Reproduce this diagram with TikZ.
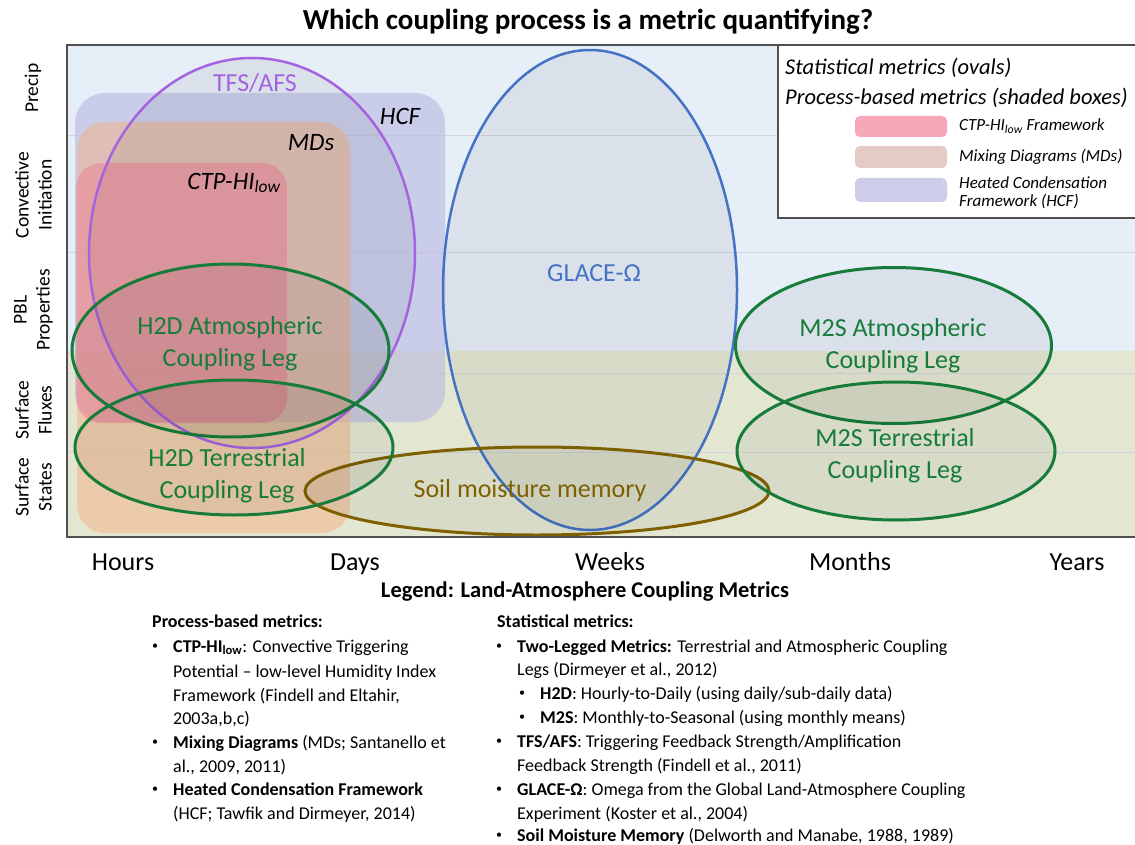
\documentclass[tikz,border=0pt]{standalone}
\usepackage{fontspec}
\setmainfont{Carlito}

\definecolor{skyfill}{HTML}{E6EEF8}
\definecolor{landfill}{HTML}{E3E7D2}
\definecolor{levelgray}{HTML}{D2D6DA}
\definecolor{framegray}{HTML}{505050}
\definecolor{hcfcol}{HTML}{B8B8E0}
\definecolor{mdcol}{HTML}{F4B183}
\definecolor{ctpcol}{HTML}{F06E8C}
\definecolor{tfspurple}{HTML}{A464DE}
\definecolor{legsgreen}{HTML}{177C3A}
\definecolor{glaceblue}{HTML}{4472C4}
\definecolor{soilbrown}{HTML}{7F6000}

\begin{document}
\begin{tikzpicture}[x=1pt,y=-1pt,line cap=round,
        oval/.style={fill=black,fill opacity=0.05,line width=3pt},
        ovaltext/.style={font=\fontsize{26}{32}\selectfont,align=center,inner sep=0pt},
        boxtext/.style={font=\fontsize{25}{30}\selectfont\itshape,inner sep=0pt},
        rowtext/.style={rotate=90,align=center,inner sep=0pt,font=\fontsize{19.5}{23}\selectfont},
        axistext/.style={anchor=base,inner sep=0pt,font=\fontsize{26}{30}\selectfont},
        keytext/.style={anchor=west,inner sep=0pt,font=\fontsize{22.5}{29}\selectfont\itshape},
        swatchtext/.style={anchor=west,inner sep=0pt,align=left,font=\fontsize{17}{18}\selectfont\itshape},
        swatch/.style={rounded corners=5pt},
        listline/.style={anchor=west,inner sep=0pt,text height=13pt,text depth=3pt,font=\fontsize{18}{20}\selectfont},
        listdot/.style={inner sep=0pt,font=\fontsize{12}{14}\selectfont}]
        \useasboundingbox (0,0) rectangle (1135,845);

        % draw the title
        \node[inner sep=0pt,font=\fontsize{29}{32}\selectfont\bfseries] (title) at (588,22) {Which coupling process is a metric quantifying?};

        % draw the panel background
        \fill[skyfill] (67,45) rectangle (1140,537);
        \fill[landfill] (67,351) rectangle (1140,537);
        \foreach \y in {136,252,373,452}
                \draw[levelgray,line width=1pt] (67,\y) -- (1140,\y);

        % draw the process-based boxes
        \fill[hcfcol,fill opacity=0.6,rounded corners=30pt] (75,93) rectangle (445,422);
        \fill[mdcol,fill opacity=0.5,rounded corners=28pt] (77,122) rectangle (350,533);
        \fill[ctpcol,fill opacity=0.4,rounded corners=25pt] (76,163) rectangle (287,423);

        % draw the statistical ovals
        \coordinate (tfs) at (252,253);
        \coordinate (glace) at (590,290);
        \coordinate (soil) at (537,491);
        \coordinate (hatm) at (230.5,350.5);
        \coordinate (hter) at (234,447.5);
        \coordinate (matm) at (893.5,345.5);
        \coordinate (mter) at (896,451);
        \draw[oval,draw=tfspurple,line width=2.5pt] (tfs) ellipse [x radius=163, y radius=195];
        \draw[oval,draw=glaceblue,line width=2.5pt] (glace) ellipse [x radius=147, y radius=240];
        \draw[oval,draw=soilbrown] (soil) ellipse [x radius=232, y radius=44];
        \draw[oval,draw=legsgreen] (hatm) ellipse [x radius=158.5, y radius=86.5];
        \draw[oval,draw=legsgreen] (hter) ellipse [x radius=159, y radius=67.5];
        \draw[oval,draw=legsgreen] (matm) ellipse [x radius=158, y radius=78];
        \draw[oval,draw=legsgreen] (mter) ellipse [x radius=159, y radius=69];

        % label the boxes and ovals
        \node[boxtext] (hcflabel) at (400,116) {HCF};
        \node[boxtext] (mdlabel) at (311,143) {MDs};
        \node[boxtext] (ctplabel) at (234,183) {CTP-HI\textsubscript{low}};
        \node[ovaltext,text=tfspurple] (tfslabel) at (255,83) {TFS/AFS};
        \node[ovaltext,text=glaceblue] (glacelabel) at (594,273) {GLACE-Ω};
        \node[ovaltext,text=soilbrown] (soillabel) at (530,491) {Soil moisture memory};
        \node[ovaltext,text=legsgreen] (hatmlabel) at (230,344) {H2D Atmospheric\\Coupling Leg};
        \node[ovaltext,text=legsgreen] (hterlabel) at (227,476) {H2D Terrestrial\\Coupling Leg};
        \node[ovaltext,text=legsgreen] (matmlabel) at (893,346) {M2S Atmospheric\\Coupling Leg};
        \node[ovaltext,text=legsgreen] (mterlabel) at (895,456) {M2S Terrestrial\\Coupling Leg};

        % draw the key in the corner
        \draw[fill=white,draw=framegray,line width=1.2pt] (778,45) rectangle (1140,218);
        \node[keytext] (keyovals) at (785,68) {Statistical metrics (ovals)};
        \node[keytext] (keyboxes) at (785,98) {Process-based metrics (shaded boxes)};
        \fill[swatch,fill=ctpcol!60!white] (855,116) rectangle (947,137);
        \fill[swatch,fill=mdcol!55!hcfcol!70!white] (855,146) rectangle (947,168);
        \fill[swatch,fill=hcfcol!70!white] (855,178) rectangle (947,202);
        \node[swatchtext] (keyctp) at (959,126) {CTP-HI\textsubscript{low} Framework};
        \node[swatchtext] (keymd) at (959,157) {Mixing Diagrams (MDs)};
        \node[swatchtext] (keyhcf) at (959,193) {Heated Condensation\\Framework (HCF)};

        % draw the panel frame
        \draw[framegray,line width=1.5pt] (1140,45) -- (67,45) -- (67,537) -- (1140,537);

        % draw the process levels
        \node[rowtext] (precip) at (33,88) {Precip};
        \node[rowtext] (convinit) at (33.5,195) {Convective\\Initiation};
        \node[rowtext] (pblprop) at (33.5,310) {PBL\\Properties};
        \node[rowtext] (sfcflux) at (33.5,410) {Surface\\Fluxes};
        \node[rowtext] (sfcstate) at (33.5,487) {Surface\\States};

        % draw the time scales
        \foreach \x/\xtext in {123/Hours,355/Days,610/Weeks,850/Months,1077/Years}
                \node[axistext] (scale\xtext) at (\x,570) {\xtext};

        % draw the legend below
        \node[inner sep=0pt,font=\fontsize{22.5}{26}\selectfont\bfseries] (legendhead) at (585,592) {Legend: Land-Atmosphere Coupling Metrics};
        \node[listline] (prochead) at (152,622) {\textbf{Process-based metrics:}};
        \node[listline] (stathead) at (497,622) {\textbf{Statistical metrics:}};
        \foreach \y in {647,743,790}
                \node[listdot] (procdot\y) at (155,\y) {•};
        \foreach \y in {647,742,790,836}
                \node[listdot] (statdot\y) at (499,\y) {•};
        \foreach \y in {694,718}
                \node[listdot] (subdot\y) at (522,\y) {•};
        \foreach \y/\xtext [count=\i] in {
            647/{\textbf{CTP-HI\textsubscript{low}}: Convective Triggering},
            672/{Potential – low-level Humidity Index},
            696/{Framework (Findell and Eltahir,},
            719/{2003a,b,c)},
            743/{\textbf{Mixing Diagrams} (MDs; Santanello et},
            767/{al., 2009, 2011)},
            790/{\textbf{Heated Condensation Framework}},
            814/{(HCF; Tawfik and Dirmeyer, 2014)}}
                \node[listline] (proc\i) at (173,\y) {\xtext};
        \foreach \x/\y/\xtext [count=\i] in {
            517/647/{\textbf{Two-Legged Metrics:} Terrestrial and Atmospheric Coupling},
            517/670/{Legs (Dirmeyer et al., 2012)},
            540/694/{\textbf{H2D}: Hourly-to-Daily (using daily/sub-daily data)},
            540/718/{\textbf{M2S}: Monthly-to-Seasonal (using monthly means)},
            517/742/{\textbf{TFS/AFS}: Triggering Feedback Strength/Amplification},
            517/766/{Feedback Strength (Findell et al., 2011)},
            517/790/{\textbf{GLACE-Ω}: Omega from the Global Land-Atmosphere Coupling},
            517/814/{Experiment (Koster et al., 2004)},
            517/836/{\textbf{Soil Moisture Memory} (Delworth and Manabe, 1988, 1989)}}
                \node[listline] (stat\i) at (\x,\y) {\xtext};
\end{tikzpicture}
\end{document}
